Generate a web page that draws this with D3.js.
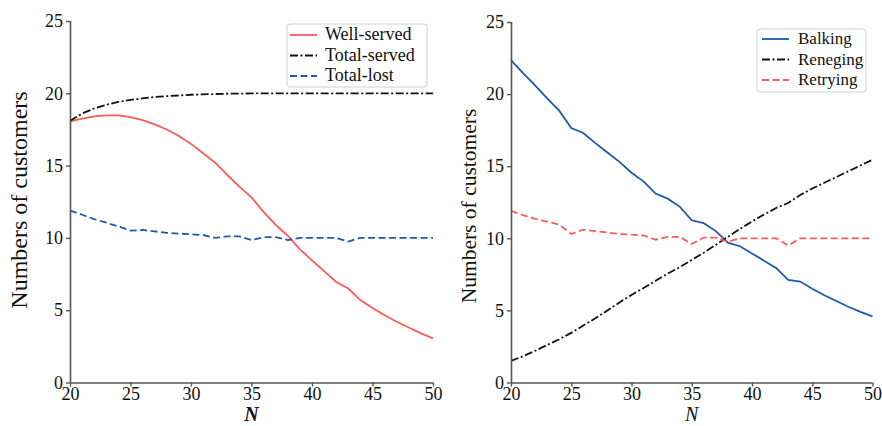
<!DOCTYPE html>
<html><head><meta charset="utf-8">
<script src="https://cdn.jsdelivr.net/npm/d3@7"></script>
<style>body{margin:0;background:#fff}svg{display:block}</style>
</head><body><svg id="c" width="882" height="426"></svg>
<script>
const N = d3.range(20, 51);
const wellServed = [18.05,18.25,18.4,18.48,18.47,18.35,18.15,17.85,17.5,17.05,16.5,15.85,15.2,14.35,13.55,12.8,11.8,10.9,10.15,9.2,8.45,7.7,6.95,6.5,5.7,5.15,4.65,4.2,3.8,3.4,3.05];
const totalServed = [18.1,18.6,18.95,19.2,19.4,19.55,19.65,19.75,19.8,19.85,19.9,19.93,19.95,19.97,19.98,19.99,20,20,20,20,20,20,20,20,20,20,20,20,20,20,20];
const totalLost = [11.9,11.6,11.3,11.05,10.8,10.5,10.55,10.45,10.35,10.3,10.25,10.2,10.0,10.1,10.1,9.85,10.05,10.05,9.85,10,10,10,10,9.75,10,10,10,10,10,10,10];
const balking = [22.35,21.45,20.6,19.7,18.85,17.65,17.3,16.6,15.95,15.3,14.55,13.95,13.1,12.75,12.2,11.25,11.05,10.5,9.7,9.45,8.95,8.45,7.95,7.12,7.0,6.5,6.05,5.65,5.25,4.9,4.58];
const reneging = [1.5,1.82,2.2,2.6,3.0,3.44,3.95,4.45,5.0,5.55,6.07,6.55,7.05,7.55,8.0,8.5,9.0,9.55,10.1,10.65,11.17,11.65,12.1,12.45,13.0,13.45,13.85,14.25,14.65,15.05,15.45];
const retrying = [11.9,11.6,11.35,11.15,10.95,10.3,10.6,10.5,10.4,10.3,10.25,10.2,9.9,10.1,10.1,9.6,10.05,10.05,9.75,10,10,10,10,9.5,10,10,10,10,10,10,10];
const xTicks = [20,25,30,35,40,45,50];
const yTicks = [0,5,10,15,20,25];
const leftNames = ["Well-served","Total-served","Total-lost"];
const rightNames = ["Balking","Reneging","Retrying"];

const RED = "#ff5a5a", BLUE = "#1f5aa8", BLACK = "#111";
const DASH = "7,3.5", DASHDOT = "8,2.5,2,2.5";
const FONT = "Liberation Serif";

const svg = d3.select("#c");

function panel(o){
  const g = svg.append("g");
  const x = d3.scaleLinear().domain([20,50]).range([o.x0,o.x1]);
  const y = d3.scaleLinear().domain([0,25]).range([o.y0,o.y1]);
  const line = d3.line().x((d,i)=>x(N[i])).y(d=>y(d));
  o.series.forEach(s=>{
    g.append("path").datum(s.data).attr("d",line).attr("fill","none")
      .attr("stroke",s.color).attr("stroke-width",1.8)
      .attr("stroke-dasharray",s.dash||null);
  });
  const ax = g.append("g").attr("transform",`translate(0,${o.y0})`)
    .call(d3.axisBottom(x).tickValues(xTicks).tickSize(4).tickPadding(1));
  const ay = g.append("g").attr("transform",`translate(${o.x0},0)`)
    .call(d3.axisLeft(y).tickValues(yTicks).tickSize(4).tickPadding(3));
  [ax,ay].forEach(a=>{
    a.attr("font-family",FONT);
    a.select(".domain").attr("stroke","#555").attr("stroke-width",1.6);
    a.selectAll(".tick line").attr("stroke","#555").attr("stroke-width",1.4);
    a.selectAll("text").attr("font-family",FONT).style("font-family",FONT).attr("font-size",18).attr("fill","#111");
  });
  ay.select(".domain").attr("d",`M0.5,${o.y0}V${o.y1}`);
  ax.select(".domain").attr("d",`M${o.x0},0.5H${o.x1}`);
  g.append("text").attr("transform",`translate(${o.ylx},${o.yly}) rotate(-90)`)
    .attr("text-anchor","middle").attr("font-size",o.ylSize).attr("fill","#111")
    .attr("font-family",FONT).style("font-family",FONT)
    .text("Numbers of customers");
  g.append("text").attr("x",(o.x0+o.x1)/2).attr("y",421).attr("text-anchor","middle")
    .attr("font-size",20).attr("font-style","italic").attr("font-weight",o.nBold?"bold":"normal")
    .attr("font-family",FONT).style("font-family",FONT)
    .attr("fill","#111").text("N");
  // legend
  const L = o.legend;
  g.append("rect").attr("x",L.x).attr("y",L.y).attr("width",L.w).attr("height",L.h)
    .attr("rx",3).attr("fill","#fff").attr("stroke","#d0d0d0").attr("stroke-width",1);
  o.series.forEach((s,i)=>{
    const yy = L.y + L.first + i*L.step;
    g.append("line").attr("x1",L.x+L.hx).attr("x2",L.x+L.hx+27).attr("y1",yy).attr("y2",yy)
      .attr("stroke",s.color).attr("stroke-width",1.8).attr("stroke-dasharray",s.dash||null);
    g.append("text").attr("x",L.x+L.tx).attr("y",yy+5).attr("font-size",L.fs).attr("fill","#111")
      .attr("font-family",FONT).style("font-family",FONT).text(s.name);
  });
}

panel({x0:70,x1:433,y0:382.5,y1:21,ylx:27,yly:200,ylSize:24,nBold:true,
  series:[{name:leftNames[0],data:wellServed,color:RED},
          {name:leftNames[1],data:totalServed,color:BLACK,dash:DASHDOT},
          {name:leftNames[2],data:totalLost,color:BLUE,dash:DASH}],
  legend:{x:287,y:24,w:140,h:63,first:11,step:20.5,hx:3,tx:38,fs:18}});
panel({x0:511,x1:872.5,y0:382.5,y1:22,ylx:476,yly:206,ylSize:21.5,nBold:false,
  series:[{name:rightNames[0],data:balking,color:BLUE},
          {name:rightNames[1],data:reneging,color:BLACK,dash:DASHDOT},
          {name:rightNames[2],data:retrying,color:RED,dash:DASH}],
  legend:{x:757,y:29,w:109,h:63,first:10,step:20.5,hx:5,tx:41,fs:17}});
</script></body></html>
